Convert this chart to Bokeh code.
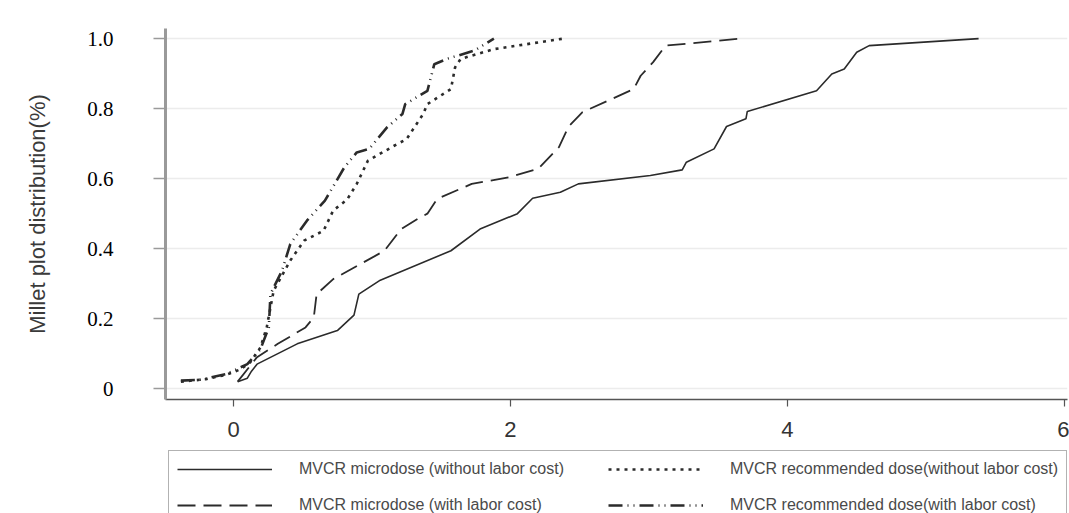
from bokeh.plotting import figure
from bokeh.layouts import column
from bokeh.models import Range1d, FixedTicker, Legend, LegendItem
from bokeh.embed import file_html
from bokeh.resources import INLINE

# ---- data ----
micro_nolabor_x = [0.03, 0.10, 0.13, 0.17, 0.46, 0.75, 0.87, 0.905, 1.06, 1.57, 1.78, 2.05, 2.16, 2.36,
                   2.49, 3.01, 3.24, 3.27, 3.47, 3.56, 3.70, 3.71, 4.21, 4.32, 4.41, 4.50, 4.59, 5.38]
micro_nolabor_y = [0.02, 0.03, 0.05, 0.07, 0.128, 0.166, 0.21, 0.27, 0.31, 0.394, 0.456, 0.50, 0.544, 0.561,
                   0.585, 0.609, 0.625, 0.647, 0.685, 0.749, 0.771, 0.792, 0.851, 0.899, 0.913, 0.961, 0.98, 1.0]

micro_labor_x = [0.03, 0.17, 0.32, 0.52, 0.58, 0.60, 0.72, 1.09, 1.21, 1.33, 1.40, 1.47, 1.72, 1.99,
                 2.20, 2.35, 2.42, 2.52, 2.89, 2.94, 3.03, 3.12, 3.66]
micro_labor_y = [0.02, 0.09, 0.128, 0.175, 0.204, 0.27, 0.313, 0.394, 0.456, 0.485, 0.50, 0.542, 0.585, 0.604,
                 0.628, 0.69, 0.749, 0.79, 0.856, 0.894, 0.933, 0.98, 1.0]

rec_nolabor_x = [-0.38, -0.2, -0.05, 0.05, 0.12, 0.195, 0.24, 0.29, 0.41, 0.51, 0.65, 0.72, 0.82, 0.89,
                 0.97, 1.16, 1.25, 1.37, 1.40, 1.57, 1.60, 1.64, 1.88, 2.38]
rec_nolabor_y = [0.02, 0.027, 0.04, 0.055, 0.075, 0.118, 0.175, 0.28, 0.366, 0.423, 0.451, 0.509, 0.54, 0.585,
                 0.651, 0.694, 0.713, 0.785, 0.813, 0.856, 0.918, 0.942, 0.97, 1.0]

rec_labor_x = [-0.38, -0.25, -0.05, 0.10, 0.195, 0.255, 0.267, 0.35, 0.41, 0.53, 0.66, 0.80, 0.89, 0.98,
               1.11, 1.22, 1.24, 1.40, 1.45, 1.54, 1.74, 1.88]
rec_labor_y = [0.023, 0.025, 0.042, 0.07, 0.113, 0.175, 0.27, 0.337, 0.413, 0.48, 0.537, 0.632, 0.675, 0.685,
               0.747, 0.785, 0.813, 0.851, 0.927, 0.942, 0.966, 1.0]

series_labels = ["MVCR microdose (without labor cost)",
                 "MVCR microdose (with labor cost)",
                 "MVCR recommended dose(without labor cost)",
                 "MVCR recommended dose(with labor cost)"]

x_ticks = [0, 2, 4, 6]
y_ticks = [0, 0.2, 0.4, 0.6, 0.8, 1.0]
y_tick_labels = ["0", "0.2", "0.4", "0.6", "0.8", "1.0"]
y_title = "Millet plot distribution(%)"

ink = "#2b2b2b"
styles = [dict(line_color=ink, line_width=1.6),
          dict(line_color=ink, line_width=1.8, line_dash="18 8"),
          dict(line_color=ink, line_width=2.6, line_dash="3 5"),
          dict(line_color=ink, line_width=2.6, line_dash="14 5 1 5 1 5")]
series = [(micro_nolabor_x, micro_nolabor_y), (micro_labor_x, micro_labor_y),
          (rec_nolabor_x, rec_nolabor_y), (rec_labor_x, rec_labor_y)]

# ---- main figure ----
p = figure(width=1069, height=449, output_backend="svg", toolbar_location=None,
           x_range=Range1d(-0.491, 6.022), y_range=Range1d(-0.031, 1.029),
           min_border_left=165, min_border_top=28, min_border_right=2, min_border_bottom=50)
p.outline_line_color = None
p.background_fill_color = "white"
p.border_fill_color = "white"

for (xs, ys), st in zip(series, styles):
    p.line(xs, ys, **st)

# grid
p.xgrid.grid_line_color = None
p.ygrid.ticker = FixedTicker(ticks=y_ticks)
p.ygrid.grid_line_color = "#ececec"
p.ygrid.grid_line_width = 1.5

# y axis
ya = p.yaxis[0]
ya.ticker = FixedTicker(ticks=y_ticks)
ya.major_label_overrides = {t: l for t, l in zip(y_ticks, y_tick_labels)}
ya.axis_line_color = "#9a9a9a"
ya.axis_line_width = 3
ya.major_tick_line_color = "#9a9a9a"
ya.major_tick_line_width = 1.5
ya.major_tick_out = 12
ya.major_tick_in = 0
ya.minor_tick_line_color = None
ya.major_label_standoff = 40
ya.major_label_text_font = "Liberation Serif"
ya.major_label_text_font_size = "21px"
ya.major_label_text_color = "black"
ya.axis_label = y_title
ya.axis_label_text_font = "Liberation Sans"
ya.axis_label_text_font_style = "normal"
ya.axis_label_text_font_size = "22px"
ya.axis_label_text_color = "#3a3a3a"
ya.axis_label_standoff = 34

# x axis
xa = p.xaxis[0]
xa.ticker = FixedTicker(ticks=x_ticks)
xa.axis_line_color = "#555555"
xa.axis_line_width = 1.5
xa.major_tick_line_color = "#555555"
xa.major_tick_line_width = 1.2
xa.major_tick_out = 7
xa.major_tick_in = 0
xa.minor_tick_line_color = None
xa.major_label_standoff = 15
xa.major_label_text_font = "Liberation Sans"
xa.major_label_text_font_size = "22px"
xa.major_label_text_color = "#333333"

# ---- legend strip (its own small figure below the plot) ----
lf = figure(width=1069, height=64, output_backend="svg", toolbar_location=None,
            x_range=Range1d(100, 101), y_range=Range1d(100, 101),
            x_axis_location=None, y_axis_location=None,
            min_border_left=0, min_border_right=0, min_border_top=0, min_border_bottom=0)
lf.outline_line_color = None
lf.xgrid.visible = False
lf.ygrid.visible = False
lf.background_fill_color = "white"
lf.border_fill_color = "white"

items = []
for (xs, ys), st, lab in zip(series, styles, series_labels):
    r = lf.line(xs, ys, **st)
    items.append(LegendItem(label=lab, renderers=[r]))

legend = Legend(items=items, location=(3, -11), nrows=2, orientation="vertical",
                glyph_width=95, glyph_height=20, label_standoff=27, label_width=293,
                spacing=16, padding=8, margin=0,
                label_text_font="Liberation Sans", label_text_font_size="16px",
                label_text_color="#4a4a4a",
                border_line_color="#666666", border_line_width=1.5,
                background_fill_color="white", background_fill_alpha=1.0)
lf.add_layout(legend, "center")

layout = column(p, lf, spacing=0)
open("out.html", "w").write(file_html(layout, INLINE))
